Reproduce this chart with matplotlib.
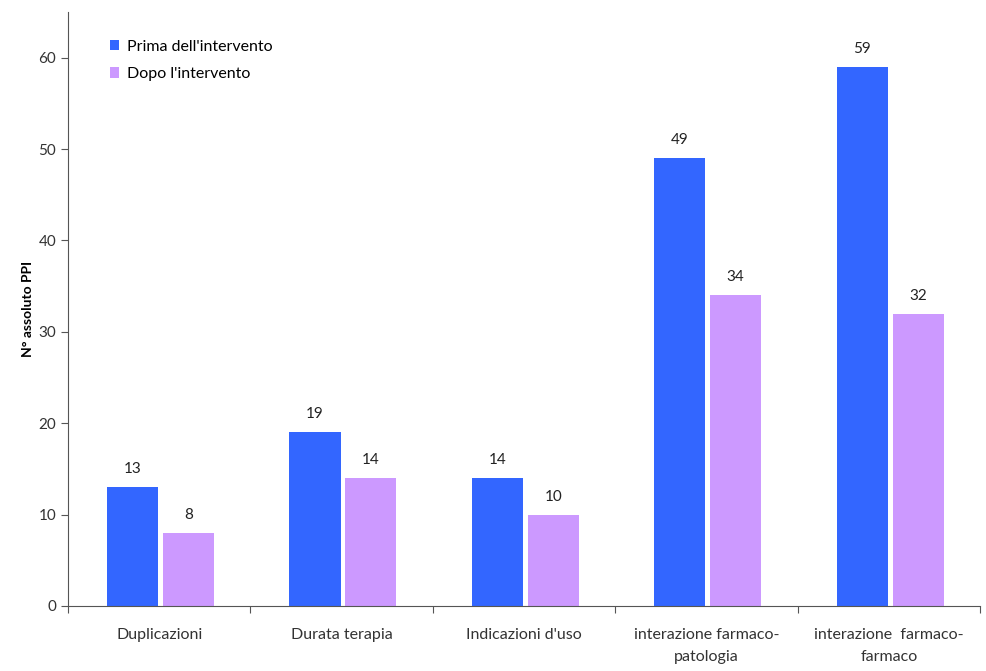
import numpy as np
import matplotlib.pyplot as plt

categorie = ['Duplicazioni', 'Durata terapia', "Indicazioni d'uso",
             'interazione farmaco-\npatologia', 'interazione  farmaco-\nfarmaco']
prima = [13, 19, 14, 49, 59]
dopo = [8, 14, 10, 34, 32]

plt.rcParams['font.family'] = ['Lato', 'DejaVu Sans']

fig = plt.figure(figsize=(9.86, 6.71), dpi=100)
ax = fig.add_axes([0.069, 0.097, 0.925, 0.885])

x = np.arange(len(categorie))
w = 0.28
b1 = ax.bar(x - 0.146, prima, w, color='#3366FF', label="Prima dell'intervento")
b2 = ax.bar(x + 0.16, dopo, w, color='#CC99FF', label="Dopo l'intervento")

for bars in (b1, b2):
    for r in bars:
        ax.text(r.get_x() + r.get_width() / 2, r.get_height() + 1.2,
                '%d' % r.get_height(), ha='center', va='bottom',
                fontsize=11, color='#222222')

ax.set_xlim(-0.5, 4.5)
ax.set_ylim(0, 65)
ax.set_yticks(range(0, 61, 10))
ax.set_xticks(np.arange(-0.5, 4.6, 1.0))
ax.set_xticklabels([])
ax.set_xticks(x, minor=True)
ax.set_xticklabels(categorie, minor=True, fontsize=11.5, color='#333333',
                   linespacing=1.75)
ax.tick_params(axis='x', which='minor', length=0, pad=16)
ax.tick_params(axis='x', which='major', length=5, color='#555555')
ax.tick_params(axis='y', length=5, color='#555555', labelsize=11, labelcolor='#333333')

for s in ('top', 'right'):
    ax.spines[s].set_visible(False)
for s in ('left', 'bottom'):
    ax.spines[s].set_color('#555555')

ax.set_ylabel('N° assoluto PPI', fontsize=10, fontweight='bold', labelpad=3)

ax.legend(loc='upper left', bbox_to_anchor=(0.03, 0.978), frameon=False,
          fontsize=11.5, handlelength=0.6, handleheight=0.6, handletextpad=0.5,
          labelspacing=0.85)

fig.savefig('out.png', dpi=100)
